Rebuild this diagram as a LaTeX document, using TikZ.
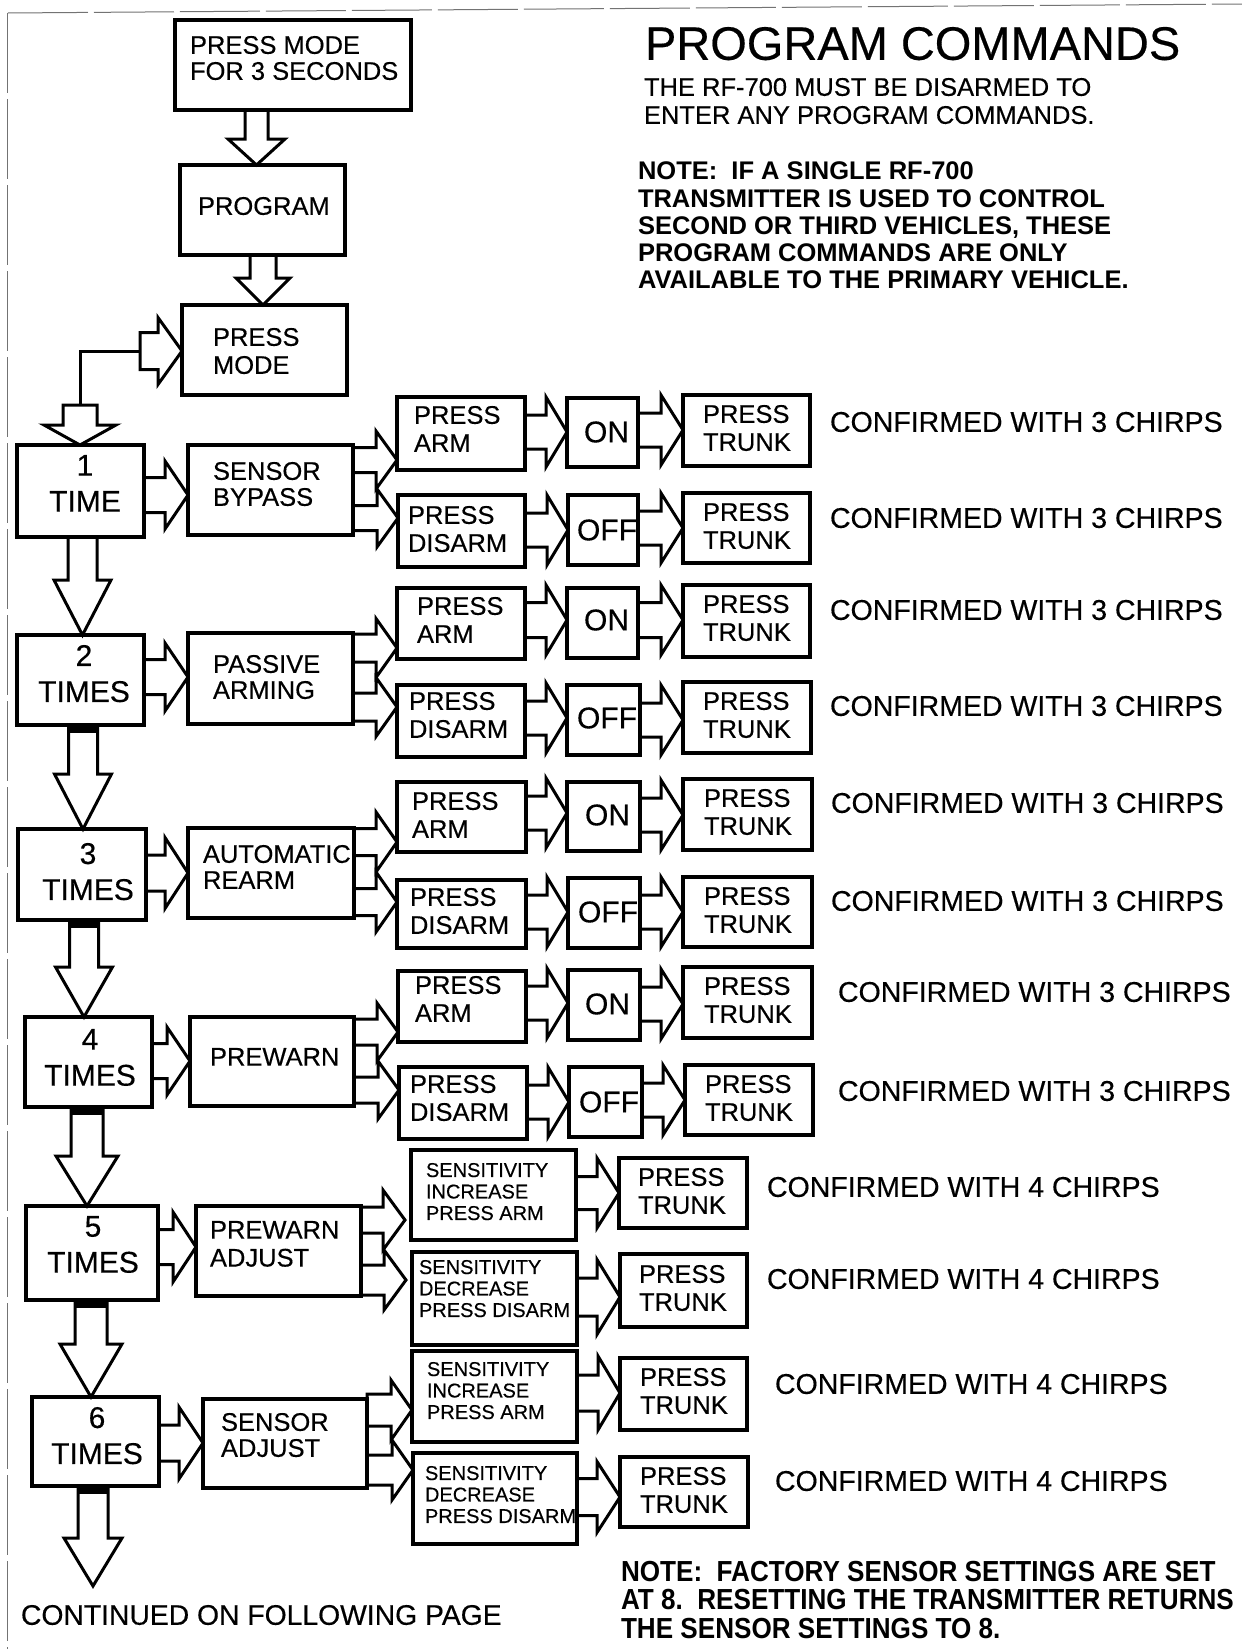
\documentclass[tikz,border=0pt]{standalone}
\usepackage{fontspec}
\setmainfont{Liberation Sans}[UprightFeatures={FakeBold=0.4}]
\newfontfamily\condsans{Liberation Sans}[FakeStretch=0.9]
\usetikzlibrary{calc}

% box with its text: name, x1, y1, x2, y2 (px), text x, text cap-top y, text style, text
\newcommand\bxt[9]{%
  \node[bx, minimum width={(#4-#2)*0.5pt}, minimum height={(#5-#3)*0.5pt}] (#1) at ({(#2+#4)/2},{(#3+#5)/2}) {};
  \node[txt, anchor=north west, #8] (#1t) at (#6,#7) {#9};}

% right block arrow: src anchor, dst anchor, yc, shaft half, head half, head length, gap (px)
\newcommand\rarrow[7]{%
  \draw[arw] let \p1=#1, \p2=#2 in
    (\x1,{-(#3-#4)*0.5pt}) -- ({\x2-(#7+#6)*0.5pt},{-(#3-#4)*0.5pt})
    -- ({\x2-(#7+#6)*0.5pt},{-(#3-#5)*0.5pt}) -- ({\x2-#7*0.5pt},{-#3*0.5pt})
    -- ({\x2-(#7+#6)*0.5pt},{-(#3+#5)*0.5pt}) -- ({\x2-(#7+#6)*0.5pt},{-(#3+#4)*0.5pt})
    -- (\x1,{-(#3+#4)*0.5pt}) -- cycle;}

% down block arrow: src anchor, dst anchor, xc, shaft half, head half, head length (px)
\newcommand\darrow[6]{%
  \draw[arw] let \p1=#1, \p2=#2 in
    ({(#3-#4)*0.5pt},\y1) -- ({(#3-#4)*0.5pt},{\y2+#6*0.5pt})
    -- ({(#3-#5)*0.5pt},{\y2+#6*0.5pt}) -- ({#3*0.5pt},\y2)
    -- ({(#3+#5)*0.5pt},{\y2+#6*0.5pt}) -- ({(#3+#4)*0.5pt},{\y2+#6*0.5pt})
    -- ({(#3+#4)*0.5pt},\y1) -- cycle;}

% dark band at the top of a down arrow shaft
\newcommand\band[3]{%
  \fill let \p1=#1 in ({(#2-#3)*0.5pt},\y1) rectangle ({(#2+#3)*0.5pt},{\y1-8*0.5pt});}

\begin{document}
\begin{tikzpicture}[x=0.5pt,y=-0.5pt,
  bx/.style={draw, line width=1.8pt, inner sep=0pt, outer sep=0pt},
  txt/.style={inner sep=0pt, outer sep=0pt, align=left},
  arw/.style={line width=1.5pt, line join=miter},
  conn/.style={line width=1.5pt},
  fstd/.style={font=\fontsize{12.75}{14}\selectfont},
  fmid/.style={font=\fontsize{12.75}{13}\selectfont},
  fbig/.style={font=\fontsize{15}{18}\selectfont},
  fsm/.style={font=\fontsize{10}{10.75}\selectfont},
  fconf/.style={font=\fontsize{14.25}{16}\selectfont},
  tcen/.style={fbig, anchor=north, align=center},
  scan/.style={line width=0.5pt, black!55, dash pattern=on 40pt off 3pt}]
\useasboundingbox (0,0) rectangle (1242,1649);
\fill[white] (0,0) rectangle (1242,1649);

% scanned page edges
\draw[scan] (8,13) -- (1242,4);
\draw[scan] (7,13) -- (7,1649);

% ---------- top section ----------
\bxt{b0}{175}{20}{411}{110}{190}{36}{fmid}{PRESS MODE\\FOR 3 SECONDS}
\bxt{b1}{180}{165}{345}{255}{198}{197}{fstd}{PROGRAM}
\bxt{b2}{182}{305}{347}{395}{213}{328}{fstd}{PRESS\\MODE}
\darrow{(b0.south)}{(b1.north)}{256.5}{11.5}{28.5}{26}
\darrow{(b1.south)}{(b2.north)}{263}{13}{27}{27}

% ---------- left column ----------
\bxt{t1}{17}{445}{144}{537}{85}{455}{tcen}{1\\TIME}
\bxt{t2}{17}{635}{144}{725}{84}{645}{tcen}{2\\TIMES}
\bxt{t3}{18}{829}{146}{920}{88}{843}{tcen}{3\\TIMES}
\bxt{t4}{25}{1017}{152}{1107}{90}{1029}{tcen}{4\\TIMES}
\bxt{t5}{26}{1206}{158}{1300}{93}{1216}{tcen}{5\\TIMES}
\bxt{t6}{32}{1397}{159}{1486}{97}{1407}{tcen}{6\\TIMES}

\coordinate (lp) at (80,405);
\coordinate (la) at (140,351);
\coordinate (cont) at (94,1586);
\draw[conn] (lp) |- (la);
\rarrow{(la)}{(b2.west)}{351}{18.5}{33.5}{24}{0}
\darrow{(lp)}{(t1.north)}{80}{17}{36}{20}
\darrow{(t1.south)}{(t2.north)}{82.5}{14.5}{28.5}{55}
\darrow{(t2.south)}{(t3.north)}{83}{14.5}{28.5}{55}
\darrow{(t3.south)}{(t4.north)}{84}{14.5}{28.5}{50}
\darrow{(t4.south)}{(t5.north)}{87}{16}{31}{50}
\darrow{(t5.south)}{(t6.north)}{91}{16}{31}{53}
\darrow{(t6.south)}{(cont)}{93}{15}{29}{48}
\band{(t2.south)}{83}{14.5}
\band{(t3.south)}{84}{14.5}
\band{(t4.south)}{87}{16}
\band{(t5.south)}{91}{16}
\band{(t6.south)}{93}{15}
\node[txt, anchor=west, font=\fontsize{14.15}{16}\selectfont] (conttext) at (21,1615) {CONTINUED ON FOLLOWING PAGE};

% ---------- middle column ----------
\bxt{m1}{188}{445}{353}{535}{213}{462}{fmid}{SENSOR\\BYPASS}
\bxt{m2}{188}{633}{353}{724}{213}{655}{fmid}{PASSIVE\\ARMING}
\bxt{m3}{188}{828}{354}{918}{203}{845}{fmid}{AUTOMATIC\\REARM}
\bxt{m4}{190}{1017}{354}{1106}{210}{1048}{fmid}{PREWARN}
\bxt{m5}{196}{1206}{361}{1296}{210}{1221}{fstd}{PREWARN\\ADJUST}
\bxt{m6}{203}{1399}{367}{1488}{221}{1413}{fmid}{SENSOR\\ADJUST}

\rarrow{(t1.east)}{(m1.west)}{495}{17.5}{34}{23}{0}
\rarrow{(t2.east)}{(m2.west)}{677}{17.5}{34}{23}{0}
\rarrow{(t3.east)}{(m3.west)}{873}{18}{35.5}{23}{0}
\rarrow{(t4.east)}{(m4.west)}{1061}{17.5}{34}{23}{0}
\rarrow{(t5.east)}{(m5.west)}{1247}{17.5}{35}{23}{0}
\rarrow{(t6.east)}{(m6.west)}{1443}{18}{36}{24}{0}

% ---------- on / off rows ----------
\bxt{a1}{397}{397}{525}{470}{414}{406}{fstd}{PRESS\\ARM}
\bxt{o1}{567}{398}{638}{467}{584}{432}{fbig,anchor=west}{ON}
\bxt{k1}{683}{395}{810}{466}{703}{405}{fstd}{PRESS\\TRUNK}
\bxt{d1}{398}{495}{525}{567}{408}{506}{fstd}{PRESS\\DISARM}
\bxt{f1}{568}{495}{638}{565}{577}{530}{fbig,anchor=west}{OFF}
\bxt{j1}{683}{493}{810}{563}{703}{503}{fstd}{PRESS\\TRUNK}

\bxt{a2}{397}{588}{525}{659}{417}{597}{fstd}{PRESS\\ARM}
\bxt{o2}{567}{588}{638}{658}{584}{620}{fbig,anchor=west}{ON}
\bxt{k2}{683}{585}{810}{657}{703}{595}{fstd}{PRESS\\TRUNK}
\bxt{d2}{397}{685}{525}{757}{409}{692}{fstd}{PRESS\\DISARM}
\bxt{f2}{567}{685}{640}{755}{577}{718}{fbig,anchor=west}{OFF}
\bxt{j2}{683}{682}{811}{753}{703}{692}{fstd}{PRESS\\TRUNK}

\bxt{a3}{397}{782}{526}{852}{412}{792}{fstd}{PRESS\\ARM}
\bxt{o3}{567}{782}{640}{851}{585}{815}{fbig,anchor=west}{ON}
\bxt{k3}{683}{779}{812}{850}{704}{789}{fstd}{PRESS\\TRUNK}
\bxt{d3}{397}{880}{526}{948}{410}{888}{fstd}{PRESS\\DISARM}
\bxt{f3}{568}{878}{640}{948}{578}{912}{fbig,anchor=west}{OFF}
\bxt{j3}{683}{877}{812}{947}{704}{887}{fstd}{PRESS\\TRUNK}

\bxt{a4}{398}{971}{526}{1042}{415}{976}{fstd}{PRESS\\ARM}
\bxt{o4}{568}{970}{640}{1040}{585}{1004}{fbig,anchor=west}{ON}
\bxt{k4}{683}{967}{812}{1038}{704}{977}{fstd}{PRESS\\TRUNK}
\bxt{d4}{399}{1067}{527}{1139}{410}{1075}{fstd}{PRESS\\DISARM}
\bxt{f4}{569}{1067}{642}{1137}{579}{1102}{fbig,anchor=west}{OFF}
\bxt{j4}{685}{1065}{813}{1135}{705}{1075}{fstd}{PRESS\\TRUNK}

% forks
\rarrow{(m1.east)}{(a1.west)}{460}{12.5}{29}{21}{0}
\rarrow{(m1.east)}{(d1.west)}{518}{12.5}{29}{21}{0}
\rarrow{(m2.east)}{(a2.west)}{648}{14}{29.5}{21}{0}
\rarrow{(m2.east)}{(d2.west)}{707}{14}{29.5}{21}{0}
\rarrow{(m3.east)}{(a3.west)}{842}{13.5}{30}{21}{0}
\rarrow{(m3.east)}{(d3.west)}{902}{13.5}{30}{21}{0}
\rarrow{(m4.east)}{(a4.west)}{1032}{13}{29}{21}{0}
\rarrow{(m4.east)}{(d4.west)}{1090}{13}{29}{21}{0}

% row arrows
\rarrow{(a1.east)}{(o1.west)}{432}{17}{35}{21}{0}
\rarrow{(o1.east)}{(k1.west)}{430}{17}{35}{22}{0}
\rarrow{(d1.east)}{(f1.west)}{530}{17}{35}{21}{0}
\rarrow{(f1.east)}{(j1.west)}{528}{17}{35}{22}{0}
\rarrow{(a2.east)}{(o2.west)}{620}{17.5}{35}{21}{0}
\rarrow{(o2.east)}{(k2.west)}{620}{17.5}{35}{22}{0}
\rarrow{(d2.east)}{(f2.west)}{718}{17}{35}{21}{0}
\rarrow{(f2.east)}{(j2.west)}{720}{17}{35}{22}{0}
\rarrow{(a3.east)}{(o3.west)}{813}{17}{35}{21}{0}
\rarrow{(o3.east)}{(k3.west)}{815}{17}{35}{22}{0}
\rarrow{(d3.east)}{(f3.west)}{912}{17}{35}{21}{0}
\rarrow{(f3.east)}{(j3.west)}{912}{17}{35}{22}{0}
\rarrow{(a4.east)}{(o4.west)}{1003}{17}{35}{21}{0}
\rarrow{(o4.east)}{(k4.west)}{1004}{17}{35}{22}{0}
\rarrow{(d4.east)}{(f4.west)}{1102}{17}{35}{21}{0}
\rarrow{(f4.east)}{(j4.west)}{1100}{17}{35}{22}{0}

% ---------- sensitivity rows ----------
\bxt{s5}{411}{1150}{576}{1240}{426}{1163}{fsm}{SENSITIVITY\\INCREASE\\PRESS ARM}
\bxt{k5}{619}{1158}{747}{1228}{638}{1168}{fstd}{PRESS\\TRUNK}
\bxt{r5}{412}{1252}{577}{1345}{419}{1260}{fsm}{SENSITIVITY\\DECREASE\\PRESS DISARM}
\bxt{j5}{620}{1254}{747}{1327}{639}{1265}{fstd}{PRESS\\TRUNK}
\bxt{s6}{412}{1351}{577}{1442}{427}{1362}{fsm}{SENSITIVITY\\INCREASE\\PRESS ARM}
\bxt{k6}{620}{1358}{747}{1430}{640}{1368}{fstd}{PRESS\\TRUNK}
\bxt{r6}{413}{1453}{577}{1544}{425}{1466}{fsm}{SENSITIVITY\\DECREASE\\PRESS DISARM}
\bxt{j6}{620}{1457}{748}{1527}{640}{1467}{fstd}{PRESS\\TRUNK}

\rarrow{(m5.east)}{(s5.west)}{1220}{13}{30}{22}{6}
\rarrow{(m5.east)}{(r5.west)}{1280}{15}{30}{22}{6}
\rarrow{(m6.east)}{(s6.west)}{1410}{16}{30}{21}{0}
\rarrow{(m6.east)}{(r6.west)}{1470}{15}{30}{21}{0}
\rarrow{(s5.east)}{(k5.west)}{1193}{16.5}{35}{22}{0}
\rarrow{(r5.east)}{(j5.west)}{1297}{19}{37.5}{23}{0}
\rarrow{(s6.east)}{(k6.west)}{1393}{18}{37}{22}{0}
\rarrow{(r6.east)}{(j6.west)}{1497}{18.5}{35.5}{23}{0}

% ---------- confirmations ----------
\node[txt, fconf, anchor=west] (c1a) at (830,422) {CONFIRMED WITH 3 CHIRPS};
\node[txt, fconf, anchor=west] (c1b) at (830,518) {CONFIRMED WITH 3 CHIRPS};
\node[txt, fconf, anchor=west] (c2a) at (830,610) {CONFIRMED WITH 3 CHIRPS};
\node[txt, fconf, anchor=west] (c2b) at (830,706) {CONFIRMED WITH 3 CHIRPS};
\node[txt, fconf, anchor=west] (c3a) at (831,803) {CONFIRMED WITH 3 CHIRPS};
\node[txt, fconf, anchor=west] (c3b) at (831,901) {CONFIRMED WITH 3 CHIRPS};
\node[txt, fconf, anchor=west] (c4a) at (838,992) {CONFIRMED WITH 3 CHIRPS};
\node[txt, fconf, anchor=west] (c4b) at (838,1091) {CONFIRMED WITH 3 CHIRPS};
\node[txt, fconf, anchor=west] (c5a) at (767,1187) {CONFIRMED WITH 4 CHIRPS};
\node[txt, fconf, anchor=west] (c5b) at (767,1279) {CONFIRMED WITH 4 CHIRPS};
\node[txt, fconf, anchor=west] (c6a) at (775,1384) {CONFIRMED WITH 4 CHIRPS};
\node[txt, fconf, anchor=west] (c6b) at (775,1481) {CONFIRMED WITH 4 CHIRPS};

% ---------- headings and notes ----------
\node[txt, anchor=north west, font=\fontsize{23.5}{28}\selectfont] (title) at (645,27) {PROGRAM COMMANDS};
\node[txt, anchor=north west, fstd] (sub) at (644,78) {THE RF-700 MUST BE DISARMED TO\\ENTER ANY PROGRAM COMMANDS.};
\node[txt, anchor=north west, font=\fontsize{12.75}{13.6}\selectfont\bfseries] (note1) at (638,162)
  {NOTE:\ \ IF A SINGLE RF-700\\TRANSMITTER IS USED TO CONTROL\\SECOND OR THIRD VEHICLES, THESE\\PROGRAM COMMANDS ARE ONLY\\AVAILABLE TO THE PRIMARY VEHICLE.};
\node[txt, anchor=north west, font=\condsans\fontsize{14.5}{14.25}\selectfont\bfseries] (note2) at (621,1561)
  {NOTE:\ \ FACTORY SENSOR SETTINGS ARE SET\\AT 8.\ \ RESETTING THE TRANSMITTER RETURNS\\THE SENSOR SETTINGS TO 8.};
\end{tikzpicture}
\end{document}
